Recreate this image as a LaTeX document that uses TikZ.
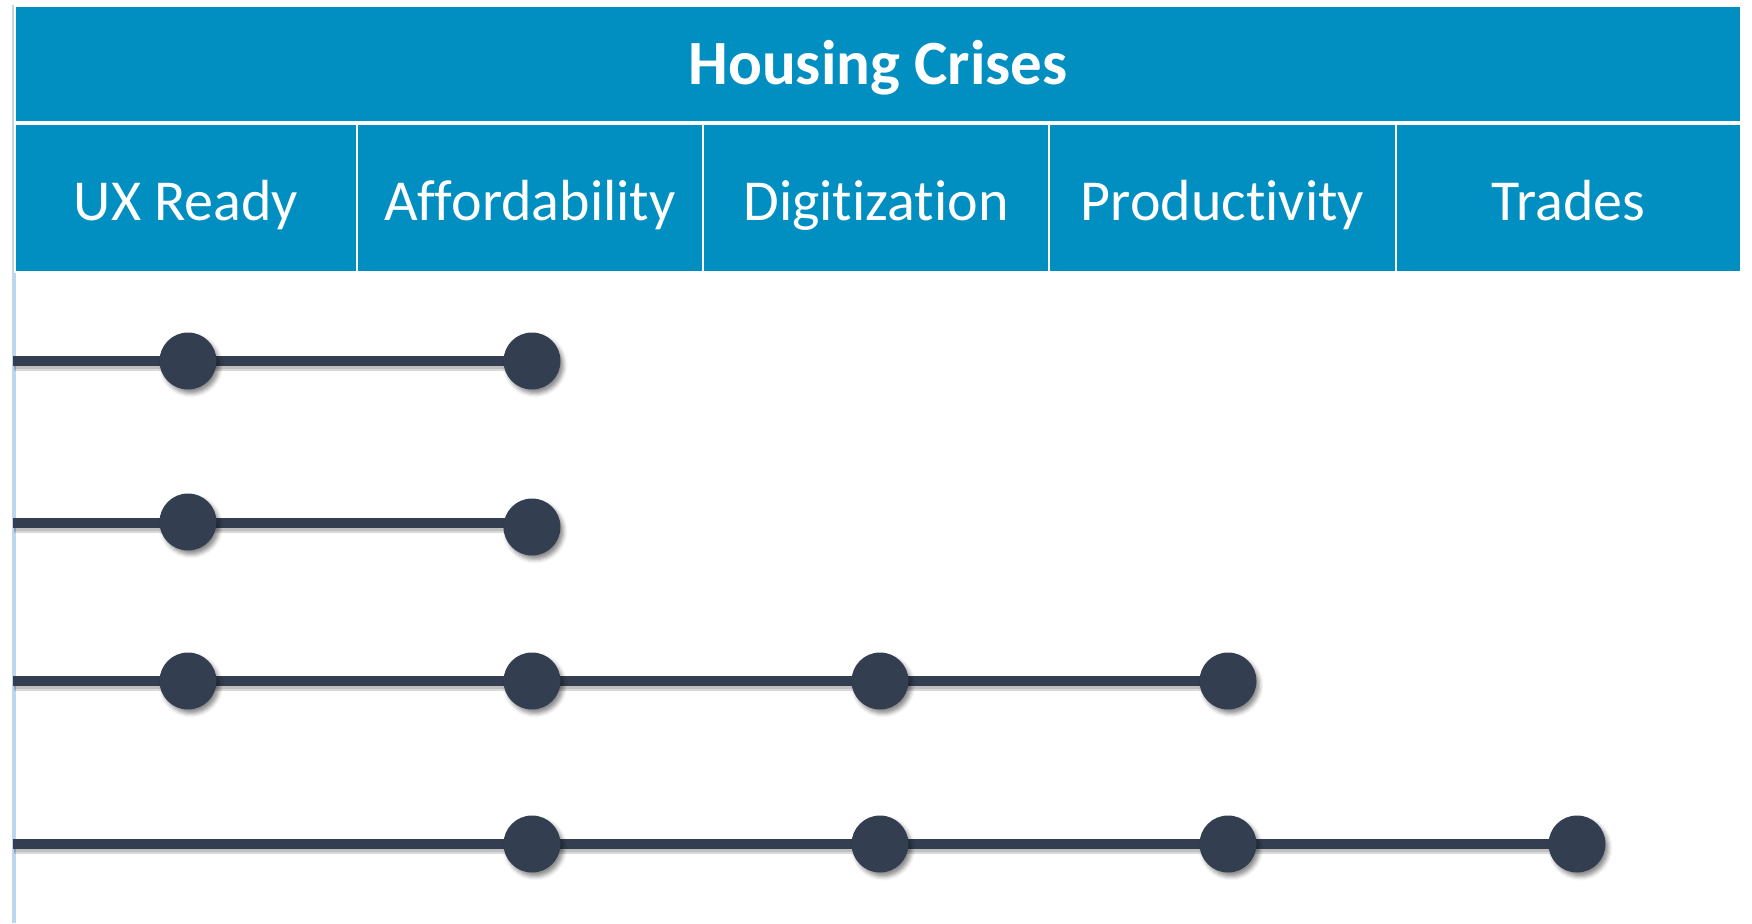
\documentclass[tikz,border=0pt]{standalone}
\usepackage{fontspec}
\setmainfont{Carlito}[Ligatures={NoCommon,NoContextual}]
\usetikzlibrary{shadows.blur,backgrounds}
\definecolor{hdrblue}{RGB}{0,143,192}
\definecolor{slate}{RGB}{51,63,80}
\definecolor{edgeblue}{RGB}{189,215,238}
\begin{document}
\begin{tikzpicture}[x=1pt,y=-1pt,
  cell/.style={rectangle,fill=hdrblue,draw=white,line width=2.5pt,inner sep=0pt},
  titletext/.style={text=white,font=\bfseries\fontsize{63}{70}\selectfont,anchor=base,inner sep=0pt},
  celltext/.style={text=white,font=\fontsize{58}{66}\selectfont,anchor=base,inner sep=0pt},
  dot/.style={circle,fill=slate,minimum size=57pt,inner sep=0pt,
    blur shadow={shadow xshift=3pt,shadow yshift=-4pt,shadow blur radius=4pt,shadow opacity=45}},
  conn/.style={draw=slate,line width=10pt,
    preaction={draw=black,opacity=0.15,line width=12pt,transform canvas={shift={(1pt,-4pt)}}},
    preaction={draw=black,opacity=0.12,line width=8pt,transform canvas={shift={(1pt,-4pt)}}}}
]
\useasboundingbox (0,0) rectangle (1752,923);

% header
\node[cell,minimum width=1726pt,minimum height=117pt] (title) at (878,64) {};
\node[titletext] (titlelbl) at (878,85) {Housing Crises};

\node[cell,minimum width=342pt,minimum height=148pt] (c1) at (186,198) {};
\node[cell,minimum width=346pt,minimum height=148pt] (c2) at (530,198) {};
\node[cell,minimum width=346pt,minimum height=148pt] (c3) at (876,198) {};
\node[cell,minimum width=347pt,minimum height=148pt] (c4) at (1222.5,198) {};
\node[cell,minimum width=345pt,minimum height=148pt] (c5) at (1568.5,198) {};

\node[celltext] (l1) at (186,220) {UX Ready};
\node[celltext] (l2) at (530,220) {Affordability};
\node[celltext] (l3) at (876,220) {Digitization};
\node[celltext] (l4) at (1222.5,220) {Productivity};
\node[celltext] (l5) at (1568.5,220) {Trades};

% row starts
\coordinate (s1) at (12.5,361);
\coordinate (s2) at (12.5,523);
\coordinate (s3) at (12.5,681);
\coordinate (s4) at (12.5,844);

% milestone dots
\node[dot] (r1a) at (188,361) {};
\node[dot] (r1b) at (532,361) {};

\node[dot] (r2a) at (188,522) {};
\node[dot] (r2b) at (532,527) {};

\node[dot] (r3a) at (188,681) {};
\node[dot] (r3b) at (532,681) {};
\node[dot] (r3c) at (880,681) {};
\node[dot] (r3d) at (1228,681) {};

\node[dot] (r4a) at (532,844) {};
\node[dot] (r4b) at (880,844) {};
\node[dot] (r4c) at (1228,844) {};
\node[dot] (r4d) at (1577,844) {};

% left rule and timelines behind everything else
\begin{scope}[on background layer]
\fill[edgeblue] (12,5) rectangle (15.5,923);
\draw[conn] (s1) -- (r1a.center) -- (r1b.center);
\draw[conn] (s2) -- (r2a.center |- s2) -- (r2b.center |- s2);
\draw[conn] (s3) -- (r3a.center) -- (r3b.center) -- (r3c.center) -- (r3d.center);
\draw[conn] (s4) -- (r4a.center) -- (r4b.center) -- (r4c.center) -- (r4d.center);
\end{scope}
\end{tikzpicture}
\end{document}
